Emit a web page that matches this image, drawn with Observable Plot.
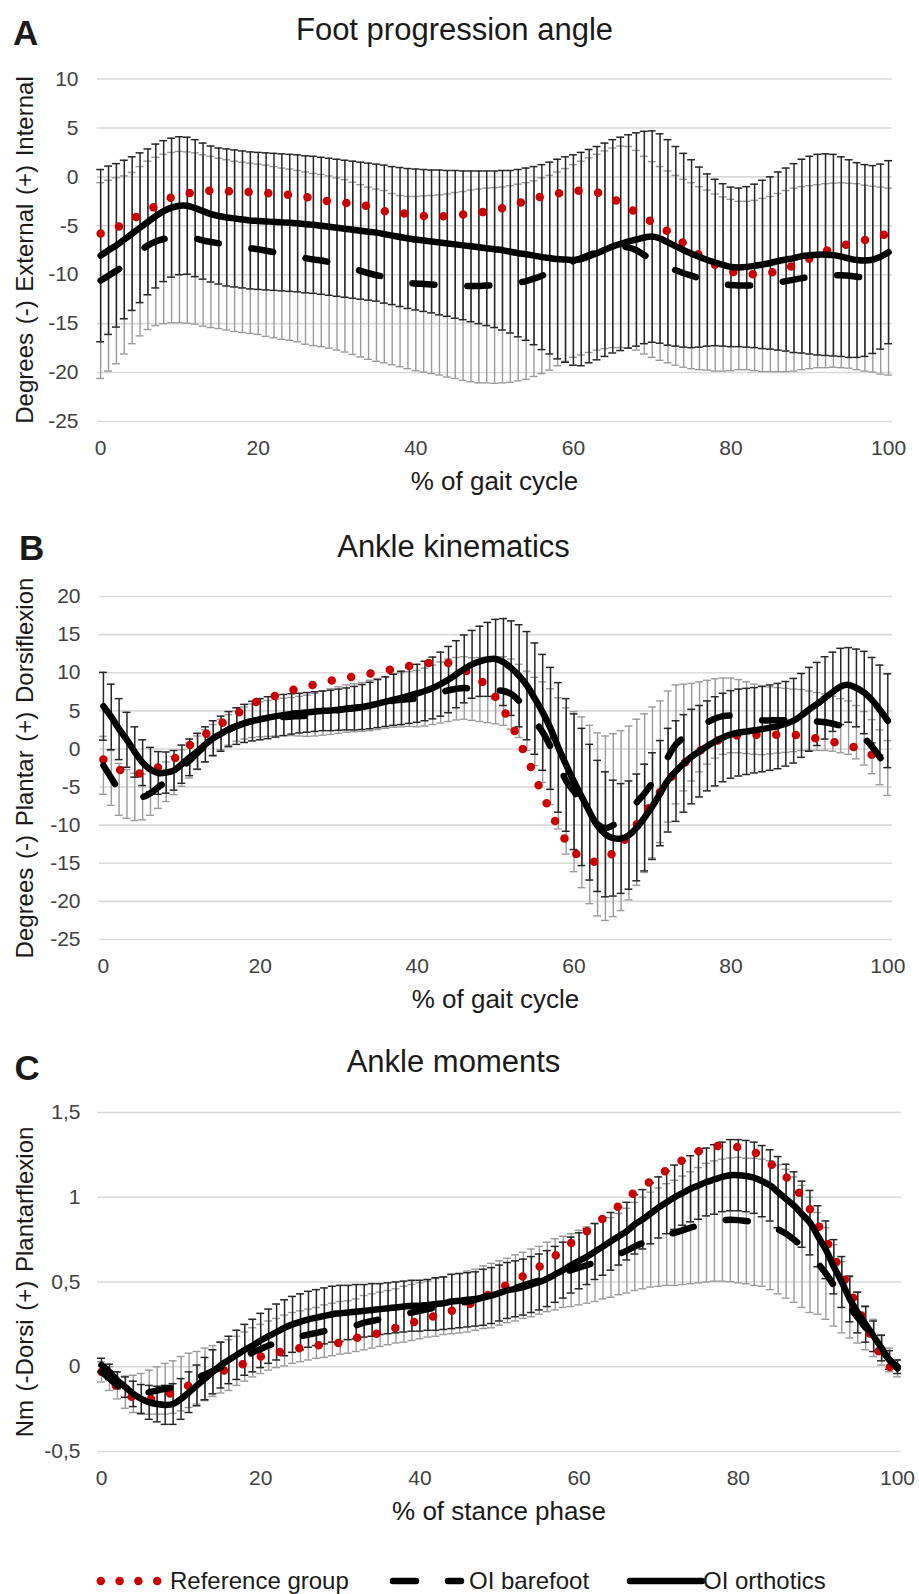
<!DOCTYPE html>
<html>
<head>
<meta charset="utf-8">
<script src="https://cdn.jsdelivr.net/npm/d3@7"></script>
<script src="https://cdn.jsdelivr.net/npm/@observablehq/plot@0.6"></script>
<style>
  html, body { margin: 0; padding: 0; background: #fff; overflow: hidden; }
  #page { position: relative; width: 919px; height: 1594px; font-family: "Liberation Sans", Arial, sans-serif; }
  #page svg { position: absolute; left: 0; }
  .t { position: absolute; white-space: nowrap; line-height: 1; color: #1a1a1a; z-index: 2; }
  .title { font-size: 31px; transform: translateX(-50%); }
  .letter { font-size: 35px; font-weight: bold; }
  .xt { font-size: 26px; transform: translateX(-50%); }
  .yt { font-size: 24px; word-spacing: 2px; transform-origin: 0 0; transform: rotate(-90deg) translateX(-50%); }
  .lg { font-size: 24px; }
  .sw { position: absolute; z-index: 2; }
</style>
</head>
<body>
<div id="page"></div>
<script>
// ---------- categories & ticks ----------
const PCT = d3.range(101); // % of cycle, 0..100
const xTicks = [0, 20, 40, 60, 80, 100];
const yTicksA = [10, 5, 0, -5, -10, -15, -20, -25];
const yLabelsA = ["10", "5", "0", "-5", "-10", "-15", "-20", "-25"];
const yTicksB = [20, 15, 10, 5, 0, -5, -10, -15, -20, -25];
const yLabelsB = ["20", "15", "10", "5", "0", "-5", "-10", "-15", "-20", "-25"];
const yTicksC = [1.5, 1, 0.5, 0, -0.5];
const yLabelsC = ["1,5", "1", "0,5", "0", "-0,5"];

// ---------- A: Foot progression angle ----------
const refA = [
 -5.8,-5.5,-5.2,-4.8,-4.3,-3.9,-3.4,-3.0,-2.6,-2.1,
 -1.9,-1.7,-1.6,-1.5,-1.4,-1.4,-1.45,-1.5,-1.5,-1.55,
 -1.6,-1.65,-1.7,-1.8,-1.85,-1.95,-2.05,-2.2,-2.35,-2.5,
 -2.6,-2.65,-2.75,-2.9,-3.0,-3.25,-3.5,-3.65,-3.7,-3.8,
 -3.9,-4.0,-4.05,-4.05,-4.0,-3.95,-3.85,-3.75,-3.65,-3.55,
 -3.4,-3.2,-2.95,-2.7,-2.45,-2.2,-2.0,-1.85,-1.7,-1.55,
 -1.45,-1.4,-1.45,-1.6,-1.8,-2.2,-2.7,-3.2,-3.65,-4.2,
 -4.6,-5.1,-5.6,-6.2,-6.8,-7.4,-8.0,-8.6,-9.0,-9.4,
 -9.65,-9.85,-9.95,-9.95,-9.9,-9.8,-9.6,-9.35,-9.05,-8.75,
 -8.35,-7.95,-7.6,-7.3,-7.05,-6.85,-6.65,-6.45,-6.2,-6.0,-5.8];
const bareA = [
 -10.6,-10.1,-9.6,-9.0,-8.3,-7.6,-7.0,-6.6,-6.35,-6.2,
 -6.15,-6.2,-6.3,-6.5,-6.65,-6.8,-6.95,-7.1,-7.2,-7.3,
 -7.4,-7.55,-7.7,-7.85,-7.95,-8.1,-8.3,-8.45,-8.55,-8.7,
 -8.9,-9.1,-9.35,-9.6,-9.85,-10.05,-10.2,-10.45,-10.65,-10.8,
 -10.9,-10.95,-11.0,-11.05,-11.1,-11.1,-11.15,-11.15,-11.15,-11.1,
 -11.1,-11.05,-10.95,-10.8,-10.65,-10.4,-10.1,-9.8,-9.4,-9.0,
 -8.6,-8.3,-8.0,-7.7,-7.45,-7.25,-7.15,-7.2,-7.5,-8.0,
 -8.45,-8.85,-9.2,-9.55,-9.85,-10.1,-10.35,-10.55,-10.8,-10.95,
 -11.05,-11.1,-11.1,-11.1,-11.05,-10.95,-10.8,-10.65,-10.5,-10.35,
 -10.25,-10.15,-10.1,-10.05,-10.05,-10.1,-10.2,-10.35,-10.45,-10.6,-10.7];
const bareSdA = [
 10.0,9.75,9.5,9.1,8.75,8.65,8.6,8.6,8.65,8.7,
 8.75,8.75,8.75,8.75,8.75,8.7,8.7,8.7,8.7,8.7,
 8.7,8.75,8.75,8.75,8.75,8.75,8.8,8.8,8.8,8.8,
 8.8,8.8,8.8,8.8,8.8,8.8,8.8,8.75,8.75,8.8,
 8.9,9.0,9.1,9.2,9.35,9.5,9.65,9.8,9.9,9.95,
 10.0,10.0,10.05,10.05,10.05,10.0,10.0,9.95,9.9,9.85,
 9.85,9.9,9.95,10.0,10.1,10.2,10.3,10.3,10.2,10.1,
 10.0,9.9,9.8,9.7,9.6,9.5,9.35,9.2,9.05,8.9,
 8.75,8.6,8.6,8.7,8.85,8.95,9.1,9.25,9.35,9.35,
 9.35,9.35,9.4,9.4,9.45,9.45,9.5,9.5,9.5,9.55,9.55];
const orthA = [
 -8.05,-7.5,-7.0,-6.4,-5.8,-5.2,-4.6,-4.0,-3.5,-3.15,
 -2.95,-2.95,-3.2,-3.5,-3.8,-4.0,-4.15,-4.25,-4.35,-4.45,
 -4.5,-4.55,-4.6,-4.65,-4.7,-4.75,-4.85,-4.9,-5.0,-5.1,
 -5.2,-5.3,-5.4,-5.5,-5.6,-5.7,-5.85,-6.0,-6.15,-6.3,
 -6.4,-6.5,-6.6,-6.7,-6.8,-6.9,-7.0,-7.1,-7.2,-7.3,
 -7.4,-7.5,-7.65,-7.8,-7.9,-8.05,-8.2,-8.3,-8.4,-8.45,
 -8.5,-8.4,-8.1,-7.8,-7.45,-7.1,-6.85,-6.6,-6.4,-6.2,
 -6.1,-6.3,-6.7,-7.1,-7.5,-7.85,-8.2,-8.5,-8.75,-9.0,
 -9.2,-9.25,-9.2,-9.1,-8.95,-8.8,-8.6,-8.45,-8.3,-8.1,
 -8.0,-7.95,-7.95,-8.0,-8.15,-8.35,-8.5,-8.55,-8.45,-8.15,-7.7];
const orthSdA = [
 8.8,8.6,8.35,8.1,7.85,7.65,7.45,7.35,7.2,7.1,
 7.05,7.0,7.0,6.95,6.95,6.95,7.0,7.0,7.0,7.0,
 7.0,7.0,7.0,7.0,7.0,7.0,7.0,7.0,7.0,7.0,
 7.0,7.0,7.0,7.0,7.0,7.0,7.05,7.05,7.1,7.15,
 7.2,7.25,7.3,7.4,7.45,7.55,7.6,7.7,7.8,7.9,
 8.0,8.15,8.3,8.55,8.8,9.1,9.45,9.8,10.2,10.5,
 10.75,10.9,10.9,10.9,10.9,10.9,10.9,10.9,10.9,10.85,
 10.8,10.7,10.5,10.2,9.9,9.6,9.2,8.8,8.5,8.3,
 8.15,8.1,8.2,8.35,8.6,8.8,9.1,9.35,9.65,9.9,
 10.1,10.25,10.3,10.3,10.2,10.1,9.95,9.8,9.6,9.45,9.35];

// ---------- B: Ankle kinematics ----------
const refB = [
 -1.4,-2.1,-2.7,-3.05,-3.2,-3.2,-2.9,-2.4,-1.85,-1.3,
 -0.4,0.5,1.2,1.9,2.6,3.3,4.0,4.6,5.3,5.9,
 6.4,6.7,7.0,7.35,7.7,8.0,8.25,8.45,8.7,8.95,
 9.15,9.35,9.5,9.7,9.9,10.1,10.3,10.5,10.7,10.9,
 11.05,11.2,11.35,11.4,11.25,10.9,10.4,9.7,9.0,8.2,
 6.8,5.1,3.3,1.0,-1.2,-3.6,-6.0,-8.2,-10.3,-12.1,
 -13.5,-14.3,-14.7,-14.8,-14.5,-13.6,-12.5,-11.2,-9.9,-8.5,
 -6.95,-5.6,-4.3,-2.9,-1.9,-1.05,-0.3,0.45,0.95,1.4,
 1.65,1.8,1.87,1.87,1.87,1.87,1.87,1.87,1.85,1.8,
 1.6,1.35,1.1,0.9,0.75,0.5,0.1,-0.4,-0.8,-1.2,-1.5];
const bareB = [
 -2.15,-3.8,-5.3,-5.9,-6.3,-6.3,-5.8,-5.0,-4.3,-3.5,
 -2.5,-1.5,-0.5,0.4,1.2,1.9,2.5,3.0,3.4,3.7,
 3.9,4.0,4.1,4.2,4.25,4.3,4.35,4.5,4.7,4.9,
 5.1,5.3,5.4,5.5,5.7,5.9,6.1,6.35,6.45,6.55,
 6.6,6.8,7.1,7.4,7.7,7.9,8.0,7.85,7.8,7.75,
 7.7,7.6,7.2,6.3,5.0,3.6,2.2,0.3,-1.9,-4.2,
 -5.6,-7.0,-8.6,-9.9,-10.4,-10.0,-9.4,-8.4,-7.0,-5.8,
 -4.4,-3.0,-1.0,0.6,1.5,2.2,2.9,3.5,4.0,4.3,
 4.4,4.3,4.1,3.9,3.75,3.75,3.75,3.75,3.75,3.8,
 3.7,3.6,3.5,3.3,3.05,2.8,2.2,1.4,0.3,-1.1,-2.5];
const bareSdB = [
 3.8,3.6,3.4,3.2,3.1,3.0,2.9,2.8,2.6,2.5,
 2.4,2.3,2.2,2.1,2.0,2.0,2.0,2.0,2.1,2.2,
 2.3,2.35,2.4,2.45,2.5,2.6,2.7,2.8,2.9,3.0,
 3.05,3.1,3.15,3.2,3.3,3.35,3.4,3.5,3.55,3.6,
 3.7,3.8,3.9,4.0,4.1,4.1,4.1,4.1,4.2,4.3,
 4.4,4.5,4.6,4.8,5.2,5.8,6.6,7.6,8.6,9.6,
 10.5,11.2,11.7,12.0,12.1,12.0,11.8,11.4,10.9,10.4,
 9.9,9.3,8.6,7.8,7.0,6.4,5.9,5.5,5.2,5.0,
 4.9,4.8,4.7,4.6,4.5,4.4,4.3,4.2,4.1,4.0,
 3.9,3.8,3.7,3.6,3.55,3.5,3.5,3.5,3.55,3.6,3.6];
const orthB = [
 5.6,4.2,2.6,1.2,-0.4,-1.8,-2.7,-3.15,-3.1,-2.8,
 -2.0,-1.1,-0.3,0.6,1.4,2.0,2.6,3.0,3.35,3.65,
 3.9,4.1,4.3,4.45,4.6,4.7,4.8,4.9,5.0,5.05,
 5.15,5.25,5.35,5.5,5.7,5.95,6.2,6.45,6.7,7.0,
 7.3,7.6,8.0,8.5,9.1,9.8,10.5,11.1,11.5,11.75,
 11.8,11.4,10.6,9.6,8.3,6.6,4.8,2.7,0.2,-2.1,
 -4.3,-6.3,-8.3,-10.1,-11.2,-11.7,-11.75,-11.3,-10.3,-9.0,
 -7.5,-5.8,-4.1,-2.9,-1.9,-1.0,-0.3,0.4,1.0,1.5,
 1.9,2.15,2.3,2.45,2.6,2.8,3.0,3.3,3.7,4.4,
 5.2,5.9,6.7,7.5,8.2,8.4,8.0,7.4,6.4,5.1,3.7];
const orthSdB = [
 4.45,4.3,4.0,3.6,3.3,3.0,2.9,2.8,2.7,2.6,
 2.5,2.4,2.35,2.3,2.3,2.3,2.3,2.4,2.5,2.6,
 2.7,2.75,2.75,2.7,2.65,2.6,2.6,2.6,2.6,2.65,
 2.7,2.75,2.85,2.95,3.05,3.15,3.25,3.35,3.5,3.65,
 3.8,3.9,4.05,4.2,4.35,4.4,4.45,4.45,4.6,4.85,
 5.2,5.7,6.2,6.7,7.1,7.3,7.6,8.0,8.5,8.7,
 8.9,9.0,8.9,8.6,8.2,7.6,7.2,7.1,7.0,7.0,
 7.0,6.9,6.8,6.6,6.4,6.2,6.0,5.9,5.85,5.8,
 5.75,5.7,5.65,5.6,5.6,5.6,5.6,5.55,5.55,5.5,
 5.5,5.45,5.4,5.2,5.0,4.9,5.1,5.4,5.6,5.9,6.15];

// ---------- C: Ankle moments ----------
const refC = [
 -0.03,-0.07,-0.12,-0.16,-0.18,-0.19,-0.19,-0.18,-0.17,-0.15,
 -0.13,-0.11,-0.09,-0.06,-0.04,-0.03,-0.01,0.0,0.02,0.04,
 0.06,0.075,0.085,0.09,0.1,0.11,0.12,0.125,0.13,0.135,
 0.142,0.155,0.17,0.18,0.19,0.2,0.215,0.23,0.245,0.26,
 0.275,0.29,0.3,0.315,0.33,0.345,0.365,0.385,0.41,0.435,
 0.46,0.485,0.51,0.535,0.56,0.59,0.62,0.655,0.69,0.73,
 0.765,0.8,0.84,0.875,0.91,0.95,0.99,1.03,1.06,1.095,
 1.13,1.16,1.19,1.22,1.25,1.27,1.29,1.3,1.305,1.3,
 1.295,1.285,1.265,1.24,1.2,1.16,1.12,1.07,1.0,0.93,
 0.84,0.75,0.65,0.55,0.45,0.35,0.25,0.15,0.06,0.0,-0.02];
const bareC = [
 -0.03,-0.07,-0.11,-0.15,-0.16,-0.16,-0.15,-0.14,-0.13,-0.12,
 -0.1,-0.08,-0.065,-0.045,-0.025,-0.005,0.01,0.035,0.06,0.085,
 0.105,0.125,0.14,0.155,0.17,0.18,0.19,0.2,0.21,0.22,
 0.23,0.235,0.245,0.26,0.27,0.28,0.29,0.3,0.31,0.32,
 0.33,0.34,0.35,0.36,0.37,0.375,0.385,0.395,0.41,0.42,
 0.435,0.45,0.465,0.48,0.495,0.51,0.53,0.545,0.56,0.57,
 0.585,0.6,0.615,0.63,0.645,0.665,0.685,0.71,0.73,0.75,
 0.765,0.78,0.79,0.805,0.82,0.835,0.85,0.86,0.865,0.867,
 0.865,0.86,0.855,0.85,0.835,0.81,0.785,0.75,0.71,0.66,
 0.61,0.55,0.48,0.41,0.35,0.29,0.23,0.17,0.1,0.04,-0.01];
const bareSdC = [
 0.06,0.07,0.08,0.095,0.11,0.12,0.13,0.14,0.15,0.155,
 0.16,0.16,0.155,0.155,0.15,0.15,0.15,0.145,0.145,0.145,
 0.145,0.145,0.145,0.15,0.15,0.15,0.15,0.15,0.155,0.155,
 0.155,0.155,0.155,0.16,0.16,0.16,0.16,0.16,0.165,0.165,
 0.165,0.165,0.17,0.17,0.175,0.175,0.18,0.18,0.185,0.19,
 0.19,0.19,0.195,0.195,0.2,0.2,0.205,0.21,0.21,0.215,
 0.22,0.225,0.23,0.23,0.235,0.24,0.25,0.26,0.27,0.28,
 0.29,0.3,0.31,0.32,0.33,0.34,0.35,0.355,0.36,0.365,
 0.37,0.37,0.375,0.375,0.38,0.38,0.38,0.37,0.36,0.34,
 0.3,0.27,0.24,0.21,0.18,0.15,0.13,0.11,0.09,0.07,0.05];
const orthC = [
 0.01,-0.03,-0.08,-0.12,-0.16,-0.19,-0.21,-0.22,-0.225,-0.22,
 -0.19,-0.15,-0.11,-0.07,-0.03,0.01,0.04,0.07,0.1,0.125,
 0.155,0.18,0.205,0.23,0.25,0.265,0.28,0.29,0.3,0.31,
 0.315,0.32,0.325,0.33,0.335,0.34,0.345,0.35,0.355,0.36,
 0.36,0.365,0.37,0.375,0.385,0.39,0.395,0.4,0.41,0.42,
 0.435,0.45,0.46,0.47,0.485,0.5,0.52,0.545,0.57,0.6,
 0.625,0.65,0.68,0.71,0.74,0.77,0.8,0.84,0.87,0.905,
 0.94,0.97,1.0,1.025,1.05,1.07,1.09,1.105,1.12,1.13,
 1.13,1.125,1.115,1.095,1.07,1.03,0.99,0.95,0.9,0.85,
 0.77,0.69,0.59,0.5,0.4,0.32,0.25,0.18,0.11,0.04,0.0];
const orthSdC = [
 0.04,0.045,0.05,0.06,0.075,0.085,0.1,0.105,0.115,0.12,
 0.12,0.12,0.12,0.125,0.13,0.135,0.14,0.145,0.15,0.155,
 0.16,0.16,0.165,0.165,0.165,0.165,0.165,0.165,0.165,0.165,
 0.165,0.16,0.16,0.155,0.155,0.15,0.15,0.15,0.15,0.15,
 0.15,0.15,0.155,0.155,0.16,0.16,0.16,0.16,0.165,0.165,
 0.165,0.165,0.165,0.165,0.165,0.165,0.165,0.165,0.165,0.165,
 0.165,0.165,0.165,0.17,0.17,0.17,0.17,0.175,0.175,0.18,
 0.18,0.185,0.19,0.19,0.195,0.2,0.2,0.205,0.205,0.21,
 0.21,0.21,0.21,0.21,0.21,0.21,0.205,0.2,0.195,0.19,
 0.18,0.17,0.16,0.15,0.135,0.12,0.105,0.09,0.075,0.055,0.04];

// ---------- styling ----------
const RED = "#cc0000";
const GRAY = "#9a9a9a";
const DARK = "#262626";
const GRID = "#d9d9d9";
const FONT = "'Liberation Sans', Arial, sans-serif";

function makeRows(ref, bare, bareSd, orth, orthSd) {
  return PCT.map((x, i) => ({
    x, ref: ref[i],
    bare: bare[i], bLo: bare[i] - bareSd[i], bHi: bare[i] + bareSd[i],
    orth: orth[i], oLo: orth[i] - orthSd[i], oHi: orth[i] + orthSd[i]
  }));
}

function errorBars(rows, lo, hi, color, w) {
  const cap = 0.5;
  return [
    Plot.ruleX(rows, {x: "x", y1: lo, y2: hi, stroke: color, strokeWidth: w}),
    Plot.ruleY(rows, {y: lo, x1: d => d.x - cap, x2: d => d.x + cap, stroke: color, strokeWidth: w}),
    Plot.ruleY(rows, {y: hi, x1: d => d.x - cap, x2: d => d.x + cap, stroke: color, strokeWidth: w})
  ];
}

function panel(rows, cfg) {
  const svg = Plot.plot({
    width: 919, height: cfg.height,
    marginTop: cfg.mt, marginBottom: cfg.mb, marginLeft: cfg.ml, marginRight: cfg.mr,
    style: {background: "transparent", fontFamily: FONT, fontSize: "21px", color: "#404040", overflow: "visible"},
    x: {domain: cfg.xDomain},
    y: {domain: cfg.yDomain},
    marks: [
      Plot.ruleY(cfg.yTicks, {stroke: GRID, strokeWidth: 1.6}),
      Plot.axisY({ticks: cfg.yTicks, tickSize: 0, tickPadding: cfg.yPad, label: null,
                  tickFormat: d => cfg.yLabels[cfg.yTicks.indexOf(d)]}),
      Plot.axisX({ticks: xTicks, tickSize: 0, tickPadding: 19, label: null, tickFormat: d => String(d)}),
      ...errorBars(rows, "bLo", "bHi", GRAY, 1.4),
      ...errorBars(rows, "oLo", "oHi", DARK, 1.5),
      Plot.line(rows, {x: "x", y: "ref", stroke: RED, strokeWidth: 8.5, strokeDasharray: "0 19.7",
                       strokeLinecap: "round", curve: "catmull-rom"}),
      Plot.line(rows, {x: "x", y: "bare", stroke: "#000", strokeWidth: 6.5, strokeDasharray: "22 33",
                       strokeLinecap: "round", curve: "catmull-rom"}),
      Plot.line(rows, {x: "x", y: "orth", stroke: "#000", strokeWidth: 6.5, curve: "catmull-rom"})
    ]
  });
  svg.style.top = cfg.top + "px";
  return svg;
}

const page = document.getElementById("page");

page.appendChild(panel(makeRows(refA, bareA, bareSdA, orthA, orthSdA), {
  top: 60, height: 400, mt: 18.5, mb: 39, ml: 97, mr: 27,
  xDomain: [-0.4, 100.5], yDomain: [-25, 10], yTicks: yTicksA, yLabels: yLabelsA, yPad: 19
}));
page.appendChild(panel(makeRows(refB, bareB, bareSdB, orthB, orthSdB), {
  top: 570, height: 400, mt: 26, mb: 31, ml: 99, mr: 27,
  xDomain: [-0.5, 100.6], yDomain: [-25, 20], yTicks: yTicksB, yLabels: yLabelsB, yPad: 19
}));
page.appendChild(panel(makeRows(refC, bareC, bareSdC, orthC, orthSdC), {
  top: 1090, height: 400, mt: 22, mb: 39, ml: 97, mr: 18,
  xDomain: [-0.5, 100.5], yDomain: [-0.5, 1.5], yTicks: yTicksC, yLabels: yLabelsC, yPad: 17
}));

// ---------- text: letters, titles, axis titles ----------
function addText(cls, text, left, top) {
  const d = document.createElement("div");
  d.className = "t " + cls;
  d.textContent = text;
  d.style.left = left + "px";
  d.style.top = top + "px";
  page.appendChild(d);
  return d;
}
addText("letter", "A", 13, 15.4);
addText("letter", "B", 19, 530.4);
addText("letter", "C", 14.5, 1050.4);
addText("title", "Foot progression angle", 454.5, 13.8);
addText("title", "Ankle kinematics", 453.5, 530.5);
addText("title", "Ankle moments", 453.5, 1045.8);
addText("xt", "% of gait cycle", 494.5, 468);
addText("xt", "% of gait cycle", 495.5, 986);
addText("xt", "% of stance phase", 499, 1498);
addText("yt", "Degrees (-) External (+) Internal", 13.2, 249.75);
addText("yt", "Degrees (-) Plantar (+) Dorsiflexion", 13.2, 767.5);
addText("yt", "Nm (-Dorsi (+) Plantarflexion", 13.2, 1281.5);

// ---------- legend ----------
const NS = "http://www.w3.org/2000/svg";
function swatch(left, width, build) {
  const s = document.createElementNS(NS, "svg");
  s.setAttribute("class", "sw");
  s.setAttribute("width", width);
  s.setAttribute("height", 16);
  s.style.left = left + "px";
  s.style.top = "1573px";
  build(s);
  page.appendChild(s);
}
function el(parent, tag, attrs) {
  const e = document.createElementNS(NS, tag);
  for (const k in attrs) e.setAttribute(k, attrs[k]);
  parent.appendChild(e);
}
swatch(94, 70, s => {
  el(s, "line", {x1: 6.8, x2: 64, y1: 8, y2: 8, stroke: RED, "stroke-width": 8.5,
                 "stroke-linecap": "round", "stroke-dasharray": "0 18.8"});
});
swatch(388, 80, s => {
  el(s, "line", {x1: 5, x2: 28, y1: 8, y2: 8, stroke: "#000", "stroke-width": 6.5, "stroke-linecap": "round"});
  el(s, "line", {x1: 60, x2: 73, y1: 8, y2: 8, stroke: "#000", "stroke-width": 6.5, "stroke-linecap": "round"});
});
swatch(624, 82, s => {
  el(s, "line", {x1: 6, x2: 78, y1: 8, y2: 8, stroke: "#000", "stroke-width": 6.5, "stroke-linecap": "round"});
});
addText("lg", "Reference group", 170, 1568.7);
addText("lg", "OI barefoot", 469, 1568.7);
addText("lg", "OI orthotics", 703, 1568.7);
</script>
</body>
</html>
